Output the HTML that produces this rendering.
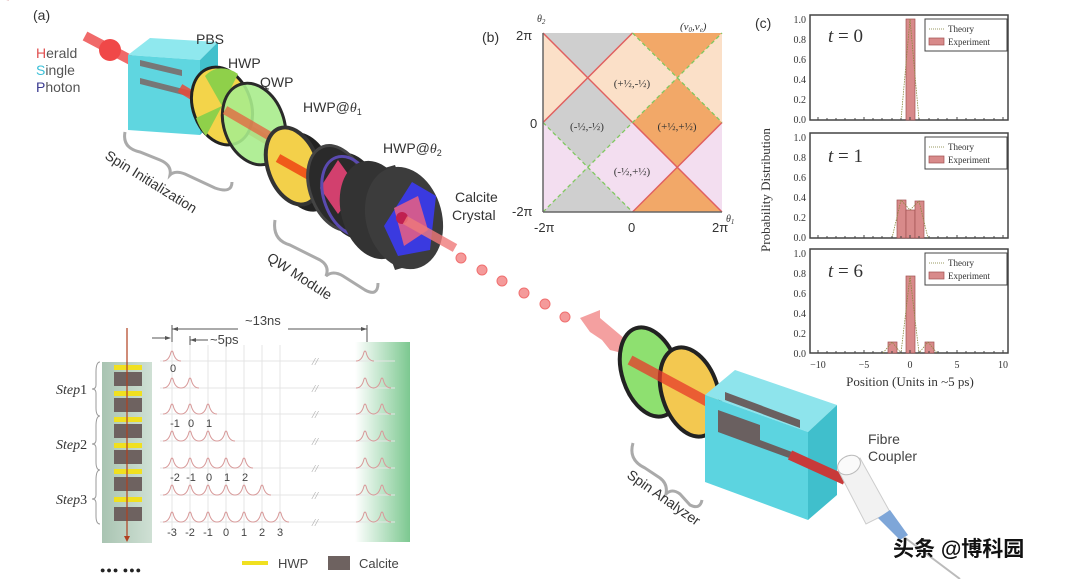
<!DOCTYPE html>
<html><head><meta charset="utf-8"><style>
html,body{margin:0;padding:0;background:#fff}
svg{display:block}
.s{font-family:"Liberation Sans",sans-serif}
.r{font-family:"Liberation Serif",serif}
</style></head><body>
<svg width="1080" height="579" viewBox="0 0 1080 579" xmlns="http://www.w3.org/2000/svg">
<defs>
<linearGradient id="gg" x1="0" x2="1"><stop offset="0" stop-color="#fff"/><stop offset="1" stop-color="#7cc890"/></linearGradient>
<linearGradient id="col" x1="0" x2="1"><stop offset="0" stop-color="#a9c4b2"/><stop offset="1" stop-color="#cfe0d4"/></linearGradient>
</defs>

<text x="33" y="20" class="s" font-size="14" fill="#333">(a)</text>
<text x="36" y="58" class="s" font-size="14" fill="#555"><tspan fill="#e05050">H</tspan>erald</text>
<text x="36" y="75" class="s" font-size="14" fill="#555"><tspan fill="#3cc0d8">S</tspan>ingle</text>
<text x="36" y="92" class="s" font-size="14" fill="#555"><tspan fill="#3a3a90">P</tspan>hoton</text>

<line x1="85" y1="36" x2="180" y2="86" stroke="#f06a6a" stroke-width="10"/>
<circle cx="110" cy="50" r="11" fill="#f04848"/>

<polygon points="128,55 150,38 218,42 200,60" fill="#8fe8ee"/>
<polygon points="128,55 200,60 200,135 128,130" fill="#5fd6e0"/>
<polygon points="200,60 218,42 218,118 200,135" fill="#42c0cc"/>
<polygon points="140,60 182,70 182,76 140,66" fill="#777"/>
<polygon points="140,78 195,92 195,98 140,84" fill="#777"/>
<text x="196" y="44" class="s" font-size="14" fill="#333">PBS</text>

<line x1="180" y1="88" x2="420" y2="232" stroke="#e84a3a" stroke-width="9" opacity=".85"/>

<ellipse cx="222" cy="106" rx="29" ry="40" transform="rotate(-20 222 106)" fill="#f3d44a" stroke="#222" stroke-width="3"/>
<path d="M222 106 L205 76 A29 40 -20 0 1 238 74 Z" fill="#8fd04a"/>
<path d="M222 106 L206 136 A29 40 -20 0 1 196 118 Z" fill="#8fd04a"/>
<text x="228" y="68" class="s" font-size="14" fill="#333">HWP</text>
<ellipse cx="254" cy="124" rx="30" ry="42" transform="rotate(-20 254 124)" fill="#a8ec8c" fill-opacity=".9" stroke="#2a2a2a" stroke-width="3"/>
<text x="260" y="87" class="s" font-size="14" fill="#333">QWP</text>
<line x1="225" y1="110" x2="285" y2="145" stroke="#e85a3a" stroke-width="9" opacity=".7"/>

<ellipse cx="305" cy="172" rx="27" ry="41" transform="rotate(-20 305 172)" fill="#222"/>
<ellipse cx="293" cy="166" rx="25" ry="40" transform="rotate(-20 293 166)" fill="#f3d04a" stroke="#333" stroke-width="4"/>
<line x1="278" y1="158" x2="310" y2="176" stroke="#f05a1a" stroke-width="9"/>
<text x="303" y="112" class="s" font-size="14" fill="#333">HWP@<tspan font-style="italic" class="r">θ</tspan><tspan font-size="9" dy="3">1</tspan></text>
<ellipse cx="352" cy="196" rx="30" ry="45" transform="rotate(-20 352 196)" fill="#2a2a2a"/>
<ellipse cx="338" cy="188" rx="28" ry="44" transform="rotate(-20 338 188)" fill="#2a2a2a" stroke="#444" stroke-width="3"/>
<polygon points="338,160 358,188 338,214 320,188" fill="#d2406e"/>
<ellipse cx="350" cy="196" rx="26" ry="41" transform="rotate(-20 350 196)" fill="none" stroke="#5a4ab0" stroke-width="3"/>
<text x="383" y="153" class="s" font-size="14" fill="#333">HWP@<tspan font-style="italic" class="r">θ</tspan><tspan font-size="9" dy="3">2</tspan></text>
<path d="M360 175 L395 165 L430 260 L395 270 Z" fill="#3a3a3a"/>
<ellipse cx="375" cy="210" rx="34" ry="50" transform="rotate(-15 375 210)" fill="#333"/>
<ellipse cx="404" cy="218" rx="38" ry="52" transform="rotate(-15 404 218)" fill="#3c3c3c"/>
<polygon points="412,182 436,196 430,250 398,256 384,226" fill="#3a3ae0"/>
<polygon points="394,208 418,196 428,230 404,246" fill="#d05a90"/>
<circle cx="402" cy="218" r="6" fill="#c02050"/>
<text x="455" y="202" class="s" font-size="14" fill="#333">Calcite</text>
<text x="452" y="220" class="s" font-size="14" fill="#333">Crystal</text>

<line x1="405" y1="220" x2="455" y2="248" stroke="#f07a7a" stroke-width="9" opacity=".8"/>
<g fill="#f49a9a" stroke="#f07070" stroke-width="1">
<circle cx="461" cy="258" r="5"/><circle cx="482" cy="270" r="5"/><circle cx="502" cy="281" r="5"/>
<circle cx="524" cy="293" r="5"/><circle cx="545" cy="304" r="5"/><circle cx="565" cy="317" r="5"/>
</g>
<polygon points="580,318 600,310 600,318 650,360 610,350 602,340 590,332" fill="#f08080" opacity=".75"/>

<g fill="none" stroke="#aaa" stroke-width="3">
<path d="M125 132 Q122 148 140 152 L160 160 Q172 165 170 175 Q175 170 185 174 L215 188 Q232 194 232 182"/>
<path d="M275 220 Q272 240 290 245 L320 260 Q330 266 326 276 Q333 270 343 276 L365 290 Q378 297 378 283"/>
<path d="M633 443 Q628 460 645 468 L660 478 Q668 484 666 494 Q672 488 680 494 L690 505 Q700 510 702 500"/>
</g>
<text transform="translate(104 158) rotate(32)" class="s" font-size="14" fill="#333">Spin Initialization</text>
<text transform="translate(266 260) rotate(33)" class="s" font-size="14" fill="#333">QW Module</text>
<text transform="translate(626 477) rotate(35)" class="s" font-size="14" fill="#333">Spin Analyzer</text>

<ellipse cx="650" cy="372" rx="28" ry="46" transform="rotate(-18 650 372)" fill="#8ee070" stroke="#222" stroke-width="4"/>
<ellipse cx="690" cy="392" rx="28" ry="46" transform="rotate(-18 690 392)" fill="#f3c850" stroke="#222" stroke-width="4"/>
<line x1="630" y1="360" x2="760" y2="430" stroke="#e83a2a" stroke-width="10" opacity=".75"/>
<polygon points="705,395 735,370 837,405 808,432" fill="#8ee4ec"/>
<polygon points="705,395 808,432 808,520 705,482" fill="#5cd4e0"/>
<polygon points="808,432 837,405 837,495 808,520" fill="#40bfcc"/>
<polygon points="725,392 800,420 800,428 725,400" fill="#6a6060"/>
<polygon points="718,410 760,425 760,440 800,455 800,462 718,432" fill="#6a6060"/>
<line x1="790" y1="455" x2="845" y2="480" stroke="#c83a3a" stroke-width="10"/>
<polygon points="838,470 860,458 890,512 866,524" fill="#f2f2f2" stroke="#ccc"/>
<ellipse cx="849" cy="465" rx="12" ry="9" transform="rotate(-28 849 465)" fill="#fafafa" stroke="#bbb"/>
<polygon points="878,518 890,510 908,535 900,540" fill="#7ea6d8"/>
<line x1="904" y1="537" x2="960" y2="579" stroke="#bbb" stroke-width="2"/>
<text x="868" y="444" class="s" font-size="14" fill="#444">Fibre</text>
<text x="868" y="461" class="s" font-size="14" fill="#444">Coupler</text>

<rect x="355" y="342" width="55" height="200" fill="url(#gg)"/>
<rect x="102" y="362" width="50" height="181" fill="url(#col)"/>
<g fill="#f0e020">
<rect x="114" y="365" width="28" height="5"/><rect x="114" y="391" width="28" height="5"/><rect x="114" y="417" width="28" height="5"/>
<rect x="114" y="443" width="28" height="5"/><rect x="114" y="469" width="28" height="5"/><rect x="114" y="497" width="28" height="5"/>
</g>
<g fill="#6e6260">
<rect x="114" y="372" width="28" height="14"/><rect x="114" y="398" width="28" height="14"/><rect x="114" y="424" width="28" height="14"/>
<rect x="114" y="450" width="28" height="14"/><rect x="114" y="477" width="28" height="14"/><rect x="114" y="507" width="28" height="14"/>
</g>
<line x1="127" y1="328" x2="127" y2="538" stroke="#b04020" stroke-width="1.2"/>
<polygon points="124,536 130,536 127,542" fill="#b04020"/>
<g fill="none" stroke="#999" stroke-width="1">
<path d="M100 362 Q96 362 96 372 L96 385 Q96 389 92 389 Q96 389 96 393 L96 408 Q96 416 100 416"/>
<path d="M100 416 Q96 416 96 426 L96 440 Q96 444 92 444 Q96 444 96 448 L96 462 Q96 470 100 470"/>
<path d="M100 470 Q96 470 96 480 L96 495 Q96 499 92 499 Q96 499 96 503 L96 516 Q96 524 100 524"/>
</g>
<text x="56" y="394" class="r" font-size="14" fill="#333"><tspan font-style="italic">Step</tspan>1</text>
<text x="56" y="449" class="r" font-size="14" fill="#333"><tspan font-style="italic">Step</tspan>2</text>
<text x="56" y="504" class="r" font-size="14" fill="#333"><tspan font-style="italic">Step</tspan>3</text>

<g stroke="#e4e4e4" stroke-width="1">
<line x1="172" y1="335" x2="172" y2="530"/><line x1="190" y1="345" x2="190" y2="530"/><line x1="208" y1="345" x2="208" y2="530"/>
<line x1="226" y1="345" x2="226" y2="530"/><line x1="244" y1="345" x2="244" y2="530"/><line x1="262" y1="345" x2="262" y2="530"/><line x1="280" y1="345" x2="280" y2="530"/>
<line x1="160" y1="361" x2="395" y2="361"/><line x1="160" y1="388" x2="395" y2="388"/><line x1="160" y1="414" x2="395" y2="414"/>
<line x1="160" y1="441" x2="395" y2="441"/><line x1="160" y1="468" x2="395" y2="468"/><line x1="160" y1="495" x2="395" y2="495"/><line x1="160" y1="522" x2="395" y2="522"/>
</g>
<g fill="none" stroke="#d8a0a0" stroke-width="1">
<path id="p" d="M-9 0 Q-3 0 -1 -9 L0 -10 L1 -9 Q3 0 9 0"/>
</g>
<g fill="none" stroke="#d89a9a" stroke-width="1">
<use href="#p" x="172" y="361"/><use href="#p" x="365" y="361"/>
<use href="#p" x="172" y="388"/><use href="#p" x="190" y="388"/><use href="#p" x="365" y="388"/><use href="#p" x="382" y="388"/>
<use href="#p" x="172" y="414"/><use href="#p" x="190" y="414"/><use href="#p" x="208" y="414"/><use href="#p" x="365" y="414"/><use href="#p" x="382" y="414"/>
<use href="#p" x="172" y="441"/><use href="#p" x="190" y="441"/><use href="#p" x="208" y="441"/><use href="#p" x="226" y="441"/><use href="#p" x="365" y="441"/><use href="#p" x="382" y="441"/>
<use href="#p" x="172" y="468"/><use href="#p" x="190" y="468"/><use href="#p" x="208" y="468"/><use href="#p" x="226" y="468"/><use href="#p" x="244" y="468"/><use href="#p" x="365" y="468"/><use href="#p" x="382" y="468"/>
<use href="#p" x="172" y="495"/><use href="#p" x="190" y="495"/><use href="#p" x="208" y="495"/><use href="#p" x="226" y="495"/><use href="#p" x="244" y="495"/><use href="#p" x="262" y="495"/><use href="#p" x="365" y="495"/><use href="#p" x="382" y="495"/>
<use href="#p" x="172" y="522"/><use href="#p" x="190" y="522"/><use href="#p" x="208" y="522"/><use href="#p" x="226" y="522"/><use href="#p" x="244" y="522"/><use href="#p" x="262" y="522"/><use href="#p" x="280" y="522"/><use href="#p" x="365" y="522"/><use href="#p" x="382" y="522"/>
</g>
<g class="r" font-size="11" fill="#aaa" font-style="italic">
<text x="312" y="365">//</text><text x="312" y="392">//</text><text x="312" y="418">//</text><text x="312" y="445">//</text>
<text x="312" y="472">//</text><text x="312" y="499">//</text><text x="312" y="526">//</text>
</g>
<g class="s" font-size="11" fill="#444" text-anchor="middle">
<text x="173" y="372">0</text>
<text x="175" y="427">-1</text><text x="191" y="427">0</text><text x="209" y="427">1</text>
<text x="175" y="481">-2</text><text x="191" y="481">-1</text><text x="209" y="481">0</text><text x="227" y="481">1</text><text x="245" y="481">2</text>
<text x="172" y="536">-3</text><text x="190" y="536">-2</text><text x="208" y="536">-1</text><text x="226" y="536">0</text><text x="244" y="536">1</text><text x="262" y="536">2</text><text x="280" y="536">3</text>
</g>
<g stroke="#555" stroke-width="1" fill="none">
<line x1="172" y1="329" x2="238" y2="329"/><line x1="288" y1="329" x2="367" y2="329"/>
<line x1="172" y1="325" x2="172" y2="342"/><line x1="367" y1="325" x2="367" y2="342"/>
<line x1="190" y1="336" x2="190" y2="345"/><line x1="190" y1="340" x2="208" y2="340"/>
<line x1="152" y1="338" x2="170" y2="338"/>
</g>
<polygon points="172,329 178,327 178,331" fill="#555"/><polygon points="367,329 361,327 361,331" fill="#555"/>
<polygon points="190,340 196,338 196,342" fill="#555"/><polygon points="171,338 165,336 165,340" fill="#555"/>
<text x="245" y="325" class="s" font-size="13" fill="#444">~13ns</text>
<text x="210" y="344" class="s" font-size="13" fill="#444">~5ps</text>
<rect x="242" y="561" width="26" height="4" fill="#f0e020"/>
<text x="278" y="568" class="s" font-size="13" fill="#444">HWP</text>
<rect x="328" y="556" width="22" height="14" fill="#6e6260"/>
<text x="359" y="568" class="s" font-size="13" fill="#444">Calcite</text>
<text x="100" y="573" class="s" font-size="9" fill="#222" letter-spacing="1">●●● ●●●</text>

<text x="482" y="42" class="s" font-size="14" fill="#333">(b)</text>
<polygon points="543,33 587.75,77.75 543,122.5" fill="#fbe0c8"/>
<polygon points="543,33 632.5,33 587.75,77.75" fill="#cfcfcf"/>
<polygon points="632.5,33 722,33 677.25,77.75" fill="#f2a868"/>
<polygon points="722,33 722,122.5 677.25,77.75" fill="#fbe0c8"/>
<polygon points="587.75,77.75 632.5,33 677.25,77.75 632.5,122.5" fill="#fbe0c8"/>
<polygon points="543,122.5 587.75,77.75 632.5,122.5 587.75,167.25" fill="#cfcfcf"/>
<polygon points="632.5,122.5 677.25,77.75 722,122.5 677.25,167.25" fill="#f2a868"/>
<polygon points="587.75,167.25 632.5,122.5 677.25,167.25 632.5,212" fill="#f3def0"/>
<polygon points="543,122.5 587.75,167.25 543,212" fill="#f3def0"/>
<polygon points="543,212 587.75,167.25 632.5,212" fill="#cfcfcf"/>
<polygon points="632.5,212 677.25,167.25 722,212" fill="#f2a868"/>
<polygon points="722,122.5 722,212 677.25,167.25" fill="#f3def0"/>
<g stroke="#e06060" stroke-width="1.5">
<line x1="543" y1="33" x2="722" y2="212"/><line x1="543" y1="122.5" x2="632.5" y2="33"/><line x1="632.5" y1="212" x2="722" y2="122.5"/>
</g>
<g stroke="#80c860" stroke-width="1.3" stroke-dasharray="4,3">
<line x1="543" y1="212" x2="722" y2="33"/><line x1="543" y1="122.5" x2="632.5" y2="212"/><line x1="632.5" y1="33" x2="722" y2="122.5"/>
</g>
<g stroke="#666" stroke-width="1.5"><line x1="543" y1="33" x2="543" y2="212"/><line x1="543" y1="212" x2="722" y2="212"/></g>
<g class="s" font-size="13" fill="#333">
<text x="516" y="40">2π</text><text x="530" y="128">0</text><text x="512" y="216">-2π</text>
<text x="534" y="232">-2π</text><text x="628" y="232">0</text><text x="712" y="232">2π</text>
</g>
<text x="537" y="22" class="r" font-size="10" font-style="italic" fill="#333">θ<tspan font-size="7" dy="2">2</tspan></text>
<text x="726" y="222" class="r" font-size="10" font-style="italic" fill="#333">θ<tspan font-size="7" dy="2">1</tspan></text>
<text x="680" y="30" class="r" font-size="11" font-style="italic" fill="#333">(ν<tspan font-size="7" dy="2">0</tspan><tspan dy="-2">,ν</tspan><tspan font-size="7" dy="2">e</tspan><tspan dy="-2">)</tspan></text>
<g class="r" font-size="11" fill="#333" text-anchor="middle">
<text x="632" y="87">(+½,-½)</text><text x="587" y="130">(-½,-½)</text><text x="677" y="130">(+½,+½)</text><text x="632" y="175">(-½,+½)</text>
</g>

<text x="755" y="28" class="s" font-size="14" fill="#333">(c)</text>
<text transform="translate(770 190) rotate(-90)" class="r" font-size="13" fill="#333" text-anchor="middle">Probability Distribution</text>
<g fill="none" stroke="#444" stroke-width="1.5">
<rect x="810" y="15" width="198" height="105"/>
<rect x="810" y="133" width="198" height="105"/>
<rect x="810" y="249" width="198" height="104"/>
</g>
<g class="r" font-size="10" fill="#333" text-anchor="end">
<text x="806" y="23">1.0</text><text x="806" y="43">0.8</text><text x="806" y="63">0.6</text><text x="806" y="83">0.4</text><text x="806" y="103">0.2</text><text x="806" y="123">0.0</text>
<text x="806" y="141">1.0</text><text x="806" y="161">0.8</text><text x="806" y="181">0.6</text><text x="806" y="201">0.4</text><text x="806" y="221">0.2</text><text x="806" y="241">0.0</text>
<text x="806" y="257">1.0</text><text x="806" y="277">0.8</text><text x="806" y="297">0.6</text><text x="806" y="317">0.4</text><text x="806" y="337">0.2</text><text x="806" y="357">0.0</text>
</g>
<g class="r" font-size="10" fill="#333" text-anchor="middle">
<text x="818" y="368">−10</text><text x="864" y="368">−5</text><text x="910" y="368">0</text><text x="957" y="368">5</text><text x="1003" y="368">10</text>
</g>
<text x="910" y="386" class="r" font-size="13" fill="#333" text-anchor="middle">Position (Units in ~5 ps)</text>
<g class="r" font-size="19" font-style="italic" fill="#333">
<text x="828" y="42">t <tspan font-style="normal">= 0</tspan></text>
<text x="828" y="162">t <tspan font-style="normal">= 1</tspan></text>
<text x="828" y="277">t <tspan font-style="normal">= 6</tspan></text>
</g>
<g>
<rect x="925" y="19" width="82" height="32" fill="#fff" stroke="#444"/>
<rect x="925" y="137" width="82" height="32" fill="#fff" stroke="#444"/>
<rect x="925" y="253" width="82" height="32" fill="#fff" stroke="#444"/>
<g stroke="#9a9a60" stroke-dasharray="1,1"><line x1="929" y1="29" x2="944" y2="29"/><line x1="929" y1="147" x2="944" y2="147"/><line x1="929" y1="263" x2="944" y2="263"/></g>
<g fill="#d88a8a" stroke="#a05050" stroke-width=".7"><rect x="929" y="38" width="15" height="7"/><rect x="929" y="156" width="15" height="7"/><rect x="929" y="272" width="15" height="7"/></g>
<g class="r" font-size="9" fill="#333">
<text x="948" y="32">Theory</text><text x="948" y="45">Experiment</text>
<text x="948" y="150">Theory</text><text x="948" y="163">Experiment</text>
<text x="948" y="266">Theory</text><text x="948" y="279">Experiment</text>
</g>
</g>
<g fill="#d88a8a" stroke="#a05050" stroke-width=".7">
<rect x="906" y="19" width="9" height="101"/>
<rect x="897" y="200" width="9" height="38"/><rect x="906" y="210" width="9" height="28"/><rect x="915" y="201" width="9" height="37"/>
<rect x="888" y="342" width="9" height="11"/><rect x="906" y="276" width="9" height="77"/><rect x="925" y="342" width="9" height="11"/>
</g>
<g fill="none" stroke="#8a8a40" stroke-width=".8" stroke-dasharray="1.5,1">
<path d="M901 120 L910 19 L919 120"/>
<path d="M892 238 L901 200 L910 210 L919 201 L928 238"/>
<path d="M883 353 L892 342 L901 353 L910 276 L919 353 L928 342 L937 353"/>
</g>
<g stroke="#444" stroke-width="1">
<path d="M818 120v-3M827 120v-2M836 120v-2M845 120v-2M855 120v-2M864 120v-3M873 120v-2M882 120v-2M892 120v-2M901 120v-2M910 120v-3M919 120v-2M929 120v-2M938 120v-2M947 120v-2M957 120v-3M966 120v-2M975 120v-2M984 120v-2M994 120v-2M1003 120v-3"/>
<path d="M818 238v-3M827 238v-2M836 238v-2M845 238v-2M855 238v-2M864 238v-3M873 238v-2M882 238v-2M892 238v-2M901 238v-2M910 238v-3M919 238v-2M929 238v-2M938 238v-2M947 238v-2M957 238v-3M966 238v-2M975 238v-2M984 238v-2M994 238v-2M1003 238v-3"/>
<path d="M818 353v-3M827 353v-2M836 353v-2M845 353v-2M855 353v-2M864 353v-3M873 353v-2M882 353v-2M892 353v-2M901 353v-2M910 353v-3M919 353v-2M929 353v-2M938 353v-2M947 353v-2M957 353v-3M966 353v-2M975 353v-2M984 353v-2M994 353v-2M1003 353v-3"/>
</g>

<text x="893" y="556" font-family="'Liberation Sans','Noto Sans CJK SC',sans-serif" font-size="21" font-weight="bold" fill="#111">头条 @博科园</text>
</svg>
</body></html>
